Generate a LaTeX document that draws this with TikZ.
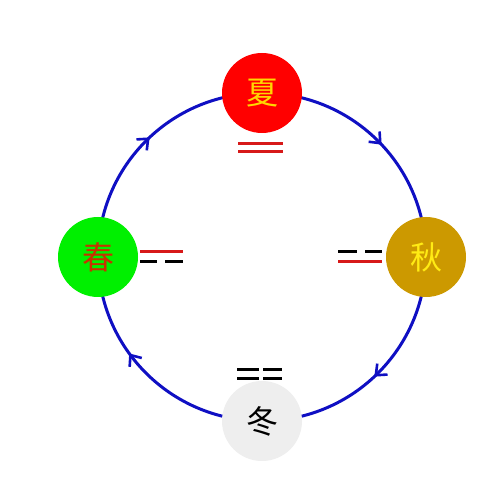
\documentclass[tikz,border=0pt]{standalone}
\usepackage{fontspec}
\newfontfamily\cjk{Noto Sans CJK SC}
\usetikzlibrary{backgrounds,decorations.markings,arrows.meta}
\definecolor{cblue}{RGB}{15,15,195}
\definecolor{cred}{RGB}{255,0,0}
\definecolor{lred}{RGB}{215,25,25}
\definecolor{cgreen}{RGB}{0,240,0}
\definecolor{cgold}{RGB}{204,153,0}
\definecolor{cgrey}{RGB}{238,238,238}
\definecolor{tyellow}{RGB}{255,215,0}
\definecolor{torange}{RGB}{200,50,0}
\definecolor{tyellow2}{RGB}{255,235,20}
\tikzset{
  season/.style={circle,minimum size=80pt,inner sep=0pt,font=\cjk\fontsize{32}{32}\selectfont},
  ring/.style={cblue,line width=3pt},
  ringarrow/.style={decoration={markings,mark=at position #1 with {\arrow{Straight Barb[length=9pt,width=15pt,line width=2.6pt]}}},postaction={decorate}},
  yang/.style={line width=3pt},
}
\begin{document}
\begin{tikzpicture}[x=1pt,y=1pt]
\useasboundingbox (0,0) rectangle (500,500);
\node[season,fill=cred,text=tyellow] (summer) at (262,407) {夏};
\node[season,fill=cgold,text=tyellow2] (autumn) at (426,243) {秋};
\node[season,fill=cgrey,text=black] (winter) at (262,79) {冬};
\node[season,fill=cgreen,text=torange] (spring) at (98,243) {春};
\begin{scope}[on background layer]
\fill[white] (0,0) rectangle (500,500);
\draw[ring,ringarrow=0.52] (spring.center) to[out=90,in=180] (summer.center);
\draw[ring,ringarrow=0.52] (summer.center) to[out=0,in=90] (autumn.center);
\draw[ring,ringarrow=0.52] (autumn.center) to[out=-90,in=0] (winter.center);
\draw[ring,ringarrow=0.6] (winter.center) to[out=180,in=-90] (spring.center);
\end{scope}
% summer trigram
\draw[yang,lred] (238,356) -- (283,356);
\draw[yang,lred] (238,348) -- (283,348);
% spring trigram
\draw[yang,lred] (140,248) -- (183,248);
\draw[yang,black] (140,238) -- (157,238);
\draw[yang,black] (165,238) -- (183,238);
% autumn trigram
\draw[yang,black] (338,248) -- (357,248);
\draw[yang,black] (365,248) -- (382,248);
\draw[yang,lred] (338,238) -- (382,238);
% winter trigram
\draw[yang,black] (237,130) -- (259,130);
\draw[yang,black] (263,130) -- (282,130);
\draw[yang,black] (237,121) -- (259,121);
\draw[yang,black] (263,121) -- (282,121);
\end{tikzpicture}
\end{document}
